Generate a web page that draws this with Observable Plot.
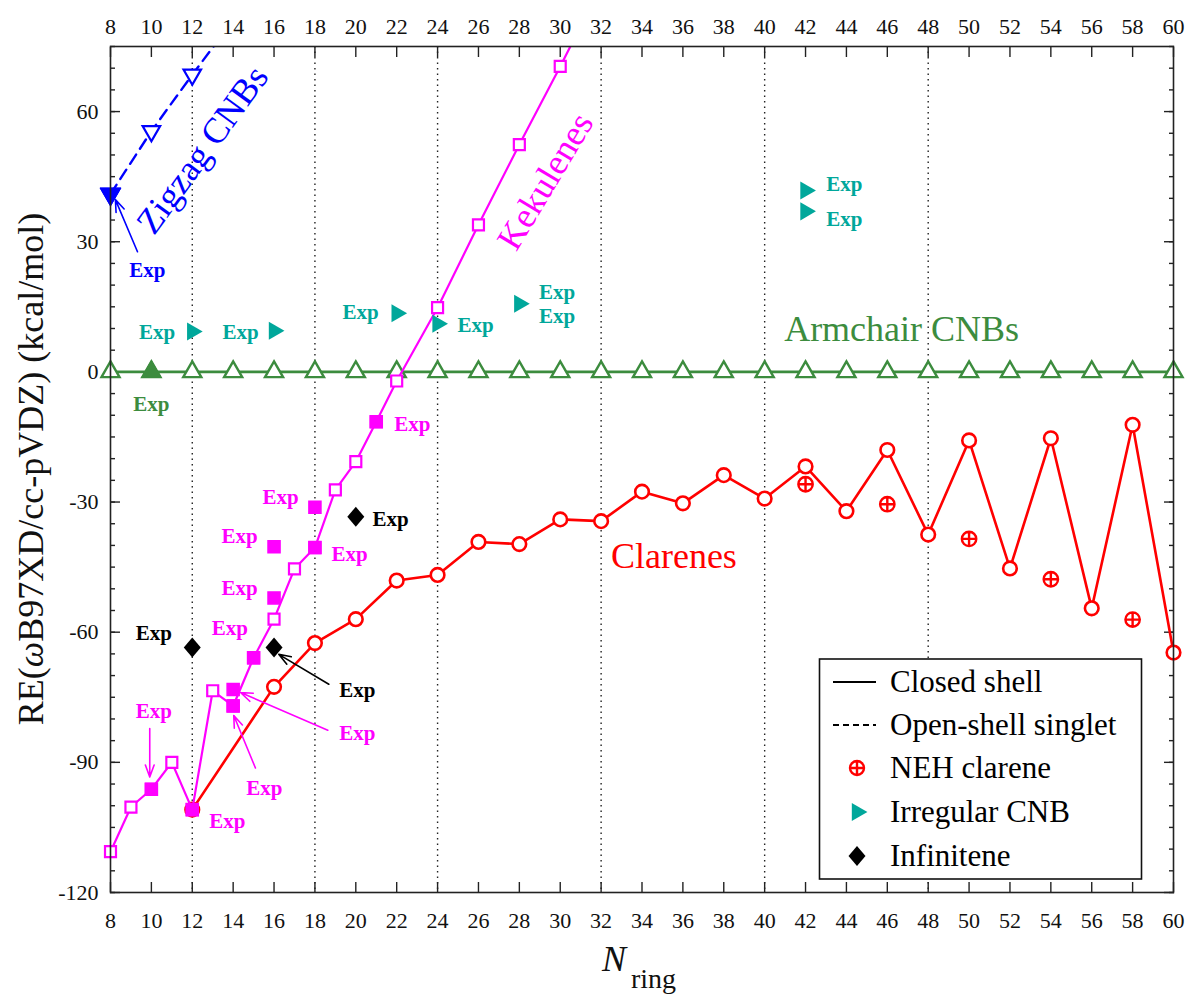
<!DOCTYPE html>
<html><head><meta charset="utf-8">
<script src="https://cdn.jsdelivr.net/npm/d3@7"></script>
<script src="https://cdn.jsdelivr.net/npm/@observablehq/plot@0.6"></script>
<style>body{margin:0;background:#fff}#chart{width:1194px;height:994px}</style>
</head><body><div id="chart"></div>
<script>
// ---------- data ----------
const armchairN  = [8,10,12,14,16,18,20,22,24,26,28,30,32,34,36,38,40,42,44,46,48,50,52,54,56,58,60];
const armchairRE = [0,0,0,0,0,0,0,0,0,0,0,0,0,0,0,0,0,0,0,0,0,0,0,0,0,0,0];
const armchairExpN = [10], armchairExpRE = [0];

const zigzagN  = [8,10,12,14];
const zigzagRE = [41,55.5,68.5,81];
const zigzagExpN = [8], zigzagExpRE = [41];

const kekuleneN  = [8,9,10,11,12,13,14,15,16,17,18,19,20,21,22,24,26,28,30,32];
const kekuleneRE = [-110.6,-100.3,-96.2,-90,-100.9,-73.5,-77,-65.9,-57,-45.4,-40.5,-27.2,-20.7,-11.5,-2.1,14.8,33.9,52.4,70.4,89];
const kekuleneExpN  = [10,12,14,14,15,16,16,18,18,21];
const kekuleneExpRE = [-96.2,-100.9,-73.2,-77,-65.9,-40.3,-52.1,-31.2,-40.5,-11.5];

const clareneN  = [12,16,18,20,22,24,26,28,30,32,34,36,38,40,42,44,46,48,50,52,54,56,58,60];
const clareneRE = [-100.9,-72.6,-62.5,-57,-48.1,-46.8,-39.2,-39.7,-34.0,-34.4,-27.6,-30.3,-23.8,-29.2,-21.8,-32.1,-18.0,-37.5,-15.8,-45.3,-15.3,-54.5,-12.2,-64.7];

const nehN  = [42,46,50,54,58];
const nehRE = [-25.9,-30.5,-38.5,-47.8,-57.1];

const irregularN  = [12,16,22,24,28,42,42];
const irregularRE = [9.3,9.5,13.5,11.1,15.7,41.8,37.0];

const infiniteneN  = [12,16,20];
const infiniteneRE = [-63.5,-63.5,-33.4];

// "Exp" annotations (data coordinates of label centres)
const expN     = [9.8, 10.0, 10.28,14.36,20.23,25.86,29.85,29.85,43.9,43.9, 22.76,16.32,14.31,19.69,14.31,13.84,10.12,20.07,15.53,13.71, 10.12,21.7,20.07];
const expRE    = [23.5,-7.4, 9.2,  9.2,  13.7, 10.8, 18.4, 12.9, 43.2,35.1, -12.0,-28.9,-38.0,-42.0,-49.8,-59.2,-78.2,-83.4,-95.9,-103.5, -60.2,-33.9,-73.5];
const expGroup = ["zigzag","armchair","irregular","irregular","irregular","irregular","irregular","irregular","irregular","irregular",
                  "kekulene","kekulene","kekulene","kekulene","kekulene","kekulene","kekulene","kekulene","kekulene","kekulene",
                  "infinitene","infinitene","infinitene"];
// arrows
const arrowN1  = [9.32, 9.92, 18.63,15.09, 18.68];
const arrowRE1 = [27.7, -82.2,-82.6,-91.3, -72.0];
const arrowN2  = [8.24, 9.92, 14.36,14.03, 16.23];
const arrowRE2 = [39.7, -93.4,-73.9,-79.2, -65.1];
const arrowGroup = ["zigzag","kekulene","kekulene","kekulene","infinitene"];

// series name labels
const nameText  = ["Zigzag CNBs","Kekulenes","Armchair CNBs","Clarenes"];
const nameN     = [12.5, 29.28, 46.7, 35.56];
const nameRE    = [51.2, 43.9, 9.7, -42.6];
const nameRot   = [-54, -59, 0, 0];
const nameGroup = ["zigzag","kekulene","armchair","clarene"];

const gridN   = [12,18,24,32,40,48];
const xTicks  = [8,10,12,14,16,18,20,22,24,26,28,30,32,34,36,38,40,42,44,46,48,50,52,54,56,58,60];
const yMajor  = [-120,-90,-60,-30,0,30,60];
const yMinor  = [-120,-115,-110,-105,-100,-95,-90,-85,-80,-75,-70,-65,-60,-55,-50,-45,-40,-35,-30,-25,-20,-15,-10,-5,0,5,10,15,20,25,30,35,40,45,50,55,60,65,70,75];

const legendLabels = ["Closed shell","Open-shell singlet","NEH clarene","Irregular CNB","Infinitene"];

// ---------- styles ----------
const colors = {zigzag:"#0000ff", armchair:"#3c8c3e", kekulene:"#ff00ff", clarene:"#ff0000", irregular:"#00a79b", infinitene:"#000000"};
const FONT = "Liberation Serif";
const Y_MAX = 75;

const oplus = {draw(ctx, size){ const r = Math.sqrt(size/Math.PI);
  ctx.moveTo(r,0); ctx.arc(0,0,r,0,2*Math.PI); ctx.moveTo(-r,0); ctx.lineTo(r,0); ctx.moveTo(0,-r); ctx.lineTo(0,r); }};
const rhomb = {draw(ctx, size){ const h = Math.sqrt(size/Math.PI)*1.6, w = h*0.85;
  ctx.moveTo(0,-h); ctx.lineTo(w,0); ctx.lineTo(0,h); ctx.lineTo(-w,0); ctx.closePath(); }};

function legendMark() {
  const g = d3.create("svg:g").attr("font-family", FONT).attr("font-size", 31).attr("text-anchor", "start");
  const x0 = 819.5, y0 = 659, w = 322, h = 220;
  g.append("rect").attr("x", x0).attr("y", y0).attr("width", w).attr("height", h)
    .attr("fill", "white").attr("stroke", "#111").attr("stroke-width", 1.6);
  const rows = [682, 725, 768, 812, 856];
  legendLabels.forEach((t, i) => {
    g.append("text").attr("x", 890).attr("y", rows[i]).attr("dy", "0.33em").attr("text-anchor", "start")
      .attr("font-family", FONT).attr("font-size", 31).attr("fill", "#000").text(t);
  });
  g.append("line").attr("x1", 833).attr("x2", 876).attr("y1", rows[0]).attr("y2", rows[0]).attr("stroke", "#000").attr("stroke-width", 2.2);
  g.append("line").attr("x1", 833).attr("x2", 876).attr("y1", rows[1]).attr("y2", rows[1]).attr("stroke", "#000").attr("stroke-width", 2.2).attr("stroke-dasharray", "6,4");
  g.append("path").attr("d", d3.symbol(oplus, Math.PI*49)()).attr("transform", `translate(857,${rows[2]})`)
    .attr("fill", "none").attr("stroke", colors.clarene).attr("stroke-width", 2.4);
  g.append("path").attr("d", d3.symbol(d3.symbolTriangle, Math.PI*6.7*6.7)()).attr("transform", `translate(857,${rows[3]}) rotate(90)`)
    .attr("fill", colors.irregular);
  g.append("path").attr("d", d3.symbol(rhomb, Math.PI*6.25*6.25)()).attr("transform", `translate(857,${rows[4]})`)
    .attr("fill", "#000");
  return g.node();
}

function yLabelMark() {
  const t = d3.create("svg:text").attr("font-family", FONT).attr("font-size", 36)
    .attr("text-anchor", "middle").attr("transform", "translate(43,469) rotate(-90)").attr("fill", "#111");
  t.append("tspan").text("RE(");
  t.append("tspan").attr("font-style", "italic").text("ω");
  t.append("tspan").text("B97XD/cc-pVDZ) (kcal/mol)");
  return t.node();
}
function xLabelMark() {
  const g = d3.create("svg:g").attr("font-family", FONT).attr("fill", "#111").attr("text-anchor", "start");
  g.append("text").attr("x", 602).attr("y", 971).attr("font-size", 36).attr("font-style", "italic").text("N");
  g.append("text").attr("x", 631).attr("y", 988).attr("font-size", 28).text("ring");
  return g.node();
}

const expIdx = g => expGroup.map((d, i) => d === g ? i : -1).filter(i => i >= 0);
const arrIdx = g => arrowGroup.map((d, i) => d === g ? i : -1).filter(i => i >= 0);

const expMarks = Object.keys(colors).map(g => Plot.text(expIdx(g), {
  x: i => expN[i], y: i => expRE[i], text: () => "Exp", fill: colors[g],
  fontWeight: "bold", fontSize: 21, fontFamily: FONT
}));
const arrowMarks = Object.keys(colors).map(g => Plot.arrow(arrIdx(g), {
  x1: i => arrowN1[i], y1: i => arrowRE1[i], x2: i => arrowN2[i], y2: i => arrowRE2[i],
  stroke: colors[g], strokeWidth: 1.6, headLength: 12, headAngle: 40
}));
const nameMarks = nameText.map((t, i) => Plot.text([t], {
  x: () => nameN[i], y: () => nameRE[i], text: d => d, rotate: nameRot[i],
  fill: colors[nameGroup[i]], fontSize: 36, fontFamily: FONT
}));

const tickText = {fontFamily: FONT, fontSize: 22, stroke: "none", fill: "#111", label: null, tickFormat: d => String(d), tickSize: 0};
const tickLine = {fill: "none", stroke: "#222", strokeWidth: 1.4, label: null};
const inView = arr => (d, i) => arr[i] <= Y_MAX;

const chart = Plot.plot({
  width: 1194, height: 994,
  marginLeft: 110, marginRight: 21, marginTop: 46, marginBottom: 102,
  style: {fontFamily: FONT, fontSize: "22px", background: "white", color: "#111"},
  x: {domain: [8, 60]},
  y: {domain: [-120, Y_MAX]},
  marks: [
    Plot.ruleX(gridN, {stroke: "#222", strokeWidth: 1.4, strokeDasharray: "1.5,4"}),
    // axes: ticks inward
    Plot.axisX(xTicks, {anchor: "bottom", tickSize: -10, ...tickLine}),
    Plot.axisX(xTicks, {anchor: "bottom", tickPadding: 20, ...tickText}),
    Plot.axisX(xTicks, {anchor: "top", tickSize: -10, ...tickLine}),
    Plot.axisX(xTicks, {anchor: "top", tickPadding: 13, ...tickText}),
    Plot.axisY(yMinor, {anchor: "left", tickSize: -5, ...tickLine}),
    Plot.axisY(yMajor, {anchor: "left", tickSize: -10, ...tickLine}),
    Plot.axisY(yMajor, {anchor: "left", tickPadding: 12, ...tickText}),
    Plot.axisY(yMinor, {anchor: "right", tickSize: -5, ...tickLine}),
    Plot.axisY(yMajor, {anchor: "right", tickSize: -10, ...tickLine}),
    // armchair
    Plot.line(armchairN, {x: d => d, y: armchairRE, stroke: colors.armchair, strokeWidth: 2.6}),
    Plot.dot(armchairN, {x: d => d, y: armchairRE, symbol: "triangle", r: 6.7, fill: "white", stroke: colors.armchair, strokeWidth: 2.4}),
    Plot.dot(armchairExpN, {x: d => d, y: armchairExpRE, symbol: "triangle", r: 7.2, fill: colors.armchair, stroke: colors.armchair, strokeWidth: 1}),
    // zigzag
    Plot.line(zigzagN, {x: d => d, y: zigzagRE, stroke: colors.zigzag, strokeWidth: 2.4, strokeDasharray: "11,7", clip: true}),
    Plot.dot(zigzagN, {x: d => d, y: zigzagRE, filter: inView(zigzagRE), symbol: "triangle", rotate: 180, r: 6.5, fill: "white", stroke: colors.zigzag, strokeWidth: 2.2}),
    Plot.dot(zigzagExpN, {x: d => d, y: zigzagExpRE, symbol: "triangle", rotate: 180, r: 7.8, fill: colors.zigzag, stroke: colors.zigzag, strokeWidth: 1}),
    // clarenes
    Plot.line(clareneN, {x: d => d, y: clareneRE, stroke: colors.clarene, strokeWidth: 2.6}),
    Plot.dot(clareneN, {x: d => d, y: clareneRE, r: 6.8, fill: "white", stroke: colors.clarene, strokeWidth: 2.6}),
    Plot.dot(nehN, {x: d => d, y: nehRE, symbol: oplus, r: 7.2, fill: "none", stroke: colors.clarene, strokeWidth: 2.4}),
    // kekulenes
    Plot.line(kekuleneN, {x: d => d, y: kekuleneRE, stroke: colors.kekulene, strokeWidth: 2.2, clip: true}),
    Plot.dot(kekuleneN, {x: d => d, y: kekuleneRE, filter: inView(kekuleneRE), symbol: "square", r: 6.2, fill: "white", stroke: colors.kekulene, strokeWidth: 2.2}),
    Plot.dot(kekuleneExpN, {x: d => d, y: kekuleneExpRE, symbol: "square", r: 6.8, fill: colors.kekulene, stroke: colors.kekulene, strokeWidth: 1.5}),
    // infinitene
    Plot.dot(infiniteneN, {x: d => d, y: infiniteneRE, symbol: rhomb, r: 6.25, fill: "#000"}),
    // irregular CNB
    Plot.dot(irregularN, {x: d => d, y: irregularRE, symbol: "triangle", rotate: 90, r: 6.7, fill: colors.irregular}),
    ...arrowMarks,
    ...expMarks,
    ...nameMarks,
    Plot.frame({stroke: "#222", strokeWidth: 1.6}),
    legendMark,
    yLabelMark,
    xLabelMark
  ]
});
document.getElementById("chart").appendChild(chart);
</script></body></html>
